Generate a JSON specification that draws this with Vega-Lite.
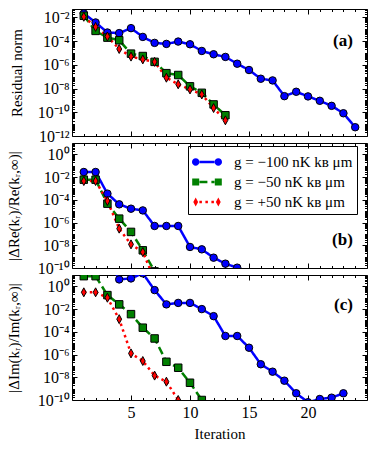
{
  "$schema": "https://vega.github.io/schema/vega-lite/v6.json",
  "padding": {"left": 5, "top": 8, "right": 5, "bottom": 5},
  "bounds": "flush",
  "spacing": 7,
  "config": {
    "font": "Liberation Serif",
    "view": {"stroke": "black", "strokeWidth": 1},
    "axis": {"domain": false, "grid": false, "tickColor": "black", "tickWidth": 1, "labelColor": "black", "titleColor": "black", "labelFontSize": 16, "titleFontSize": 15, "titleFontWeight": "normal", "labelFont": "Liberation Serif", "titleFont": "Liberation Serif"},
    "legend": {"labelFont": "Liberation Serif", "labelFontSize": 15}
  },
  "datasets": {
    "d": [
      {"p":"a","s":"−100","i":1,"v":2.2e-2},{"p":"a","s":"−100","i":2,"v":3.8e-3},{"p":"a","s":"−100","i":3,"v":5.4e-4},{"p":"a","s":"−100","i":4,"v":4.8e-4},{"p":"a","s":"−100","i":5,"v":1.26e-3},{"p":"a","s":"−100","i":6,"v":2.3e-4},{"p":"a","s":"−100","i":7,"v":7.2e-5},{"p":"a","s":"−100","i":8,"v":5.9e-5},{"p":"a","s":"−100","i":9,"v":9.3e-5},{"p":"a","s":"−100","i":10,"v":5.5e-5},{"p":"a","s":"−100","i":11,"v":1.5e-5},{"p":"a","s":"−100","i":12,"v":7.9e-6},{"p":"a","s":"−100","i":13,"v":4.7e-6},{"p":"a","s":"−100","i":14,"v":1.26e-6},{"p":"a","s":"−100","i":15,"v":3.7e-7},{"p":"a","s":"−100","i":16,"v":6.8e-8},{"p":"a","s":"−100","i":17,"v":4.9e-8},{"p":"a","s":"−100","i":18,"v":2.3e-9},{"p":"a","s":"−100","i":19,"v":5.4e-9},{"p":"a","s":"−100","i":20,"v":2.2e-9},{"p":"a","s":"−100","i":21,"v":9.3e-10},{"p":"a","s":"−100","i":22,"v":3.5e-10},{"p":"a","s":"−100","i":23,"v":8.3e-11},{"p":"a","s":"−100","i":24,"v":5.5e-12},
      {"p":"a","s":"−50","i":1,"v":1.4e-2},{"p":"a","s":"−50","i":2,"v":7.4e-4},{"p":"a","s":"−50","i":3,"v":2.0e-4},{"p":"a","s":"−50","i":4,"v":1.2e-4},{"p":"a","s":"−50","i":5,"v":8.9e-6},{"p":"a","s":"−50","i":6,"v":5.6e-6},{"p":"a","s":"−50","i":7,"v":1.8e-6},{"p":"a","s":"−50","i":8,"v":2.0e-7},{"p":"a","s":"−50","i":9,"v":1.4e-7},{"p":"a","s":"−50","i":10,"v":1.55e-8},{"p":"a","s":"−50","i":11,"v":4.4e-9},{"p":"a","s":"−50","i":12,"v":4.6e-10},{"p":"a","s":"−50","i":13,"v":5.6e-11},
      {"p":"a","s":"+50","i":1,"v":1.15e-2},{"p":"a","s":"+50","i":2,"v":1.6e-3},{"p":"a","s":"+50","i":3,"v":2.5e-4},{"p":"a","s":"+50","i":4,"v":2.2e-5},{"p":"a","s":"+50","i":5,"v":5.0e-6},{"p":"a","s":"+50","i":6,"v":2.9e-6},{"p":"a","s":"+50","i":7,"v":1.8e-6},{"p":"a","s":"+50","i":8,"v":8.3e-8},{"p":"a","s":"+50","i":9,"v":2.3e-8},{"p":"a","s":"+50","i":10,"v":8.5e-9},{"p":"a","s":"+50","i":11,"v":3.2e-9},{"p":"a","s":"+50","i":12,"v":2.3e-10},{"p":"a","s":"+50","i":13,"v":2.1e-11},
      {"p":"b","s":"−100","i":1,"v":2.8e-2},{"p":"b","s":"−100","i":2,"v":2.8e-2},{"p":"b","s":"−100","i":3,"v":3.5e-4},{"p":"b","s":"−100","i":4,"v":4.0e-5},{"p":"b","s":"−100","i":5,"v":1.66e-5},{"p":"b","s":"−100","i":6,"v":1.17e-5},{"p":"b","s":"−100","i":7,"v":5.0e-7},{"p":"b","s":"−100","i":8,"v":5.0e-7},{"p":"b","s":"−100","i":9,"v":5.0e-7},{"p":"b","s":"−100","i":10,"v":7.1e-9},{"p":"b","s":"−100","i":11,"v":4.4e-9},{"p":"b","s":"−100","i":12,"v":8.1e-10},{"p":"b","s":"−100","i":13,"v":2.4e-10},{"p":"b","s":"−100","i":14,"v":1.07e-10},{"p":"b","s":"−100","i":15,"v":2.5e-11},
      {"p":"b","s":"−50","i":1,"v":5.9e-3},{"p":"b","s":"−50","i":2,"v":5.9e-3},{"p":"b","s":"−50","i":3,"v":4.6e-5},{"p":"b","s":"−50","i":4,"v":2.2e-6},{"p":"b","s":"−50","i":5,"v":1.5e-7},{"p":"b","s":"−50","i":6,"v":3.6e-9},{"p":"b","s":"−50","i":7,"v":5.0e-11},
      {"p":"b","s":"+50","i":1,"v":4.5e-3},{"p":"b","s":"+50","i":2,"v":4.5e-3},{"p":"b","s":"+50","i":3,"v":7.9e-5},{"p":"b","s":"+50","i":4,"v":2.9e-7},{"p":"b","s":"+50","i":5,"v":1.2e-8},{"p":"b","s":"+50","i":6,"v":2.5e-9},{"p":"b","s":"+50","i":7,"v":1.0e-11},
      {"p":"c","s":"−100","i":1,"v":300},{"p":"c","s":"−100","i":2,"v":300},{"p":"c","s":"−100","i":3,"v":360},{"p":"c","s":"−100","i":4,"v":4.1},{"p":"c","s":"−100","i":5,"v":5.0},{"p":"c","s":"−100","i":6,"v":14},{"p":"c","s":"−100","i":7,"v":0.47},{"p":"c","s":"−100","i":8,"v":2.6e-2},{"p":"c","s":"−100","i":9,"v":3.5e-2},{"p":"c","s":"−100","i":10,"v":3.5e-2},{"p":"c","s":"−100","i":11,"v":1.0e-2},{"p":"c","s":"−100","i":12,"v":2.4e-3},{"p":"c","s":"−100","i":13,"v":4.3e-5},{"p":"c","s":"−100","i":14,"v":4.3e-5},{"p":"c","s":"−100","i":15,"v":4.0e-6},{"p":"c","s":"−100","i":16,"v":1.4e-7},{"p":"c","s":"−100","i":17,"v":3.1e-8},{"p":"c","s":"−100","i":18,"v":5.0e-9},{"p":"c","s":"−100","i":19,"v":3.9e-10},{"p":"c","s":"−100","i":20,"v":6.3e-11},{"p":"c","s":"−100","i":21,"v":1.23e-10},{"p":"c","s":"−100","i":22,"v":1.6e-10},{"p":"c","s":"−100","i":23,"v":3.9e-10},
      {"p":"c","s":"−50","i":1,"v":7.9},{"p":"c","s":"−50","i":2,"v":7.9},{"p":"c","s":"−50","i":3,"v":0.17},{"p":"c","s":"−50","i":4,"v":2.6e-2},{"p":"c","s":"−50","i":5,"v":3.6e-3},{"p":"c","s":"−50","i":6,"v":2.3e-4},{"p":"c","s":"−50","i":7,"v":2.6e-5},{"p":"c","s":"−50","i":8,"v":2.3e-7},{"p":"c","s":"−50","i":9,"v":6.9e-8},{"p":"c","s":"−50","i":10,"v":3.3e-9},{"p":"c","s":"−50","i":11,"v":1.0e-10},
      {"p":"c","s":"+50","i":1,"v":0.30},{"p":"c","s":"+50","i":2,"v":0.30},{"p":"c","s":"+50","i":3,"v":0.10},{"p":"c","s":"+50","i":4,"v":1.3e-3},{"p":"c","s":"+50","i":5,"v":1.26e-6},{"p":"c","s":"+50","i":6,"v":2.7e-7},{"p":"c","s":"+50","i":7,"v":1.4e-8},{"p":"c","s":"+50","i":8,"v":4.1e-9},{"p":"c","s":"+50","i":9,"v":1.0e-10}
    ]
  },
  "resolve": {
    "scale": {"stroke": "independent", "strokeDash": "independent", "fill": "independent", "shape": "independent"},
    "legend": {"stroke": "independent", "strokeDash": "independent", "fill": "independent", "shape": "independent"}
  },
  "vconcat": [
    {
      "width": 295, "height": 127,
      "resolve": {"axis": {"x": "independent", "y": "independent"}},
      "layer": [
        {
          "data": {"name": "d"},
          "transform": [{"filter": "datum.p === 'a'"}],
          "mark": {"type": "line", "strokeWidth": 2.5, "clip": true},
          "encoding": {
            "x": {"field": "i", "type": "quantitative", "scale": {"domain": [0, 25], "nice": false, "zero": false},
              "axis": {"orient": "bottom", "values": [1,2,3,4,5,6,7,8,9,10,11,12,13,14,15,16,17,18,19,20,21,22,23,24], "labels": false, "title": null, "tickSize": {"condition": {"test": "datum.value % 5 === 0", "value": -5}, "value": -2.5}}},
            "y": {"field": "v", "type": "quantitative", "scale": {"type": "log", "domain": [1e-12, 0.052], "nice": false},
              "axis": {"orient": "left", "title": "Residual norm", "titlePadding": 13, "labelPadding": 8,
                "values": [1e-12,2e-12,3e-12,4e-12,5e-12,6e-12,7e-12,8e-12,9e-12,1e-11,2e-11,3e-11,4e-11,5e-11,6e-11,7e-11,8e-11,9e-11,1e-10,2e-10,3e-10,4e-10,5e-10,6e-10,7e-10,8e-10,9e-10,1e-9,2e-9,3e-9,4e-9,5e-9,6e-9,7e-9,8e-9,9e-9,1e-8,2e-8,3e-8,4e-8,5e-8,6e-8,7e-8,8e-8,9e-8,1e-7,2e-7,3e-7,4e-7,5e-7,6e-7,7e-7,8e-7,9e-7,1e-6,2e-6,3e-6,4e-6,5e-6,6e-6,7e-6,8e-6,9e-6,1e-5,2e-5,3e-5,4e-5,5e-5,6e-5,7e-5,8e-5,9e-5,1e-4,2e-4,3e-4,4e-4,5e-4,6e-4,7e-4,8e-4,9e-4,1e-3,2e-3,3e-3,4e-3,5e-3,6e-3,7e-3,8e-3,9e-3,1e-2,2e-2,3e-2,4e-2,5e-2],
                "labelExpr": "abs(log(datum.value)/LN10 - round(log(datum.value)/LN10)) < 1e-6 && round(log(datum.value)/LN10) % 2 == 0 ? '10' + (round(log(datum.value)/LN10) < 0 ? '⁻' : '') + (abs(round(log(datum.value)/LN10)) >= 10 ? '¹' : '') + ['⁰','¹','²','³','⁴','⁵','⁶','⁷','⁸','⁹'][abs(round(log(datum.value)/LN10)) % 10] : ''",
                "tickSize": {"condition": {"test": "abs(log(datum.value)/LN10 - round(log(datum.value)/LN10)) < 1e-6 && round(log(datum.value)/LN10) % 2 == 0", "value": -5}, "value": -2.5}}},
            "stroke": {"field": "s", "type": "nominal", "scale": {"domain": ["−100", "−50", "+50"], "range": ["#0000ff", "#008000", "#ff0000"]}, "legend": null},
            "strokeDash": {"field": "s", "type": "nominal", "scale": {"domain": ["−100", "−50", "+50"], "range": [[1, 0], [8, 4], [2.5, 3.5]]}, "legend": null}
          }
        },
        {
          "data": {"name": "d"},
          "transform": [{"filter": "datum.p === 'a'"}],
          "mark": {"type": "point", "filled": true, "stroke": "black", "strokeWidth": 1, "size": 56, "opacity": 1, "clip": true},
          "encoding": {
            "x": {"field": "i", "type": "quantitative", "scale": {"domain": [0, 25], "nice": false, "zero": false},
              "axis": {"orient": "top", "values": [1,2,3,4,5,6,7,8,9,10,11,12,13,14,15,16,17,18,19,20,21,22,23,24], "labels": false, "title": null, "tickSize": {"condition": {"test": "datum.value % 5 === 0", "value": -5}, "value": -2.5}}},
            "y": {"field": "v", "type": "quantitative", "scale": {"type": "log", "domain": [1e-12, 0.052], "nice": false},
              "axis": {"orient": "right", "labels": false, "title": null,
                "values": [1e-12,2e-12,3e-12,4e-12,5e-12,6e-12,7e-12,8e-12,9e-12,1e-11,2e-11,3e-11,4e-11,5e-11,6e-11,7e-11,8e-11,9e-11,1e-10,2e-10,3e-10,4e-10,5e-10,6e-10,7e-10,8e-10,9e-10,1e-9,2e-9,3e-9,4e-9,5e-9,6e-9,7e-9,8e-9,9e-9,1e-8,2e-8,3e-8,4e-8,5e-8,6e-8,7e-8,8e-8,9e-8,1e-7,2e-7,3e-7,4e-7,5e-7,6e-7,7e-7,8e-7,9e-7,1e-6,2e-6,3e-6,4e-6,5e-6,6e-6,7e-6,8e-6,9e-6,1e-5,2e-5,3e-5,4e-5,5e-5,6e-5,7e-5,8e-5,9e-5,1e-4,2e-4,3e-4,4e-4,5e-4,6e-4,7e-4,8e-4,9e-4,1e-3,2e-3,3e-3,4e-3,5e-3,6e-3,7e-3,8e-3,9e-3,1e-2,2e-2,3e-2,4e-2,5e-2],
                "tickSize": {"condition": {"test": "abs(log(datum.value)/LN10 - round(log(datum.value)/LN10)) < 1e-6 && round(log(datum.value)/LN10) % 2 == 0", "value": -5}, "value": -2.5}}},
            "fill": {"field": "s", "type": "nominal", "scale": {"domain": ["−100", "−50", "+50"], "range": ["#0000ff", "#008000", "#ff0000"]}, "legend": null},
            "shape": {"field": "s", "type": "nominal", "scale": {"domain": ["−100", "−50", "+50"], "range": ["circle", "square", "M0,-1.2L0.65,0L0,1.2L-0.65,0Z"]}, "legend": null}
          }
        },
        {
          "data": {"values": [{"label": "(a)"}]},
          "mark": {"type": "text", "align": "right", "baseline": "middle", "fontSize": 17, "fontWeight": "bold", "font": "Liberation Serif", "color": "black"},
          "encoding": {
            "text": {"field": "label"},
            "x": {"datum": 23.8, "type": "quantitative", "axis": null},
            "y": {"datum": 1.07e-4, "type": "quantitative", "axis": null}
          }
        }
      ]
    },
    {
      "width": 295, "height": 125,
      "resolve": {
        "axis": {"x": "independent", "y": "independent"},
        "scale": {"fill": "independent", "shape": "independent"},
        "legend": {"stroke": "independent", "strokeDash": "independent", "fill": "independent", "shape": "independent"}
      },
      "layer": [
        {
          "data": {"name": "d"},
          "transform": [{"filter": "datum.p === 'b'"}],
          "mark": {"type": "line", "strokeWidth": 2.5, "clip": true},
          "encoding": {
            "x": {"field": "i", "type": "quantitative", "scale": {"domain": [0, 25], "nice": false, "zero": false},
              "axis": {"orient": "bottom", "values": [1,2,3,4,5,6,7,8,9,10,11,12,13,14,15,16,17,18,19,20,21,22,23,24], "labels": false, "title": null, "tickSize": {"condition": {"test": "datum.value % 5 === 0", "value": -5}, "value": -2.5}}},
            "y": {"field": "v", "type": "quantitative", "scale": {"type": "log", "domain": [1e-10, 10], "nice": false},
              "axis": {"orient": "left", "title": "|ΔRe(kᵣ)/Re(kᵣ,∞)|", "titlePadding": 16, "labelPadding": 8,
                "values": [1e-10,2e-10,3e-10,4e-10,5e-10,6e-10,7e-10,8e-10,9e-10,1e-9,2e-9,3e-9,4e-9,5e-9,6e-9,7e-9,8e-9,9e-9,1e-8,2e-8,3e-8,4e-8,5e-8,6e-8,7e-8,8e-8,9e-8,1e-7,2e-7,3e-7,4e-7,5e-7,6e-7,7e-7,8e-7,9e-7,1e-6,2e-6,3e-6,4e-6,5e-6,6e-6,7e-6,8e-6,9e-6,1e-5,2e-5,3e-5,4e-5,5e-5,6e-5,7e-5,8e-5,9e-5,1e-4,2e-4,3e-4,4e-4,5e-4,6e-4,7e-4,8e-4,9e-4,1e-3,2e-3,3e-3,4e-3,5e-3,6e-3,7e-3,8e-3,9e-3,1e-2,2e-2,3e-2,4e-2,5e-2,6e-2,7e-2,8e-2,9e-2,0.1,0.2,0.3,0.4,0.5,0.6,0.7,0.8,0.9,1,2,3,4,5,6,7,8,9,10],
                "labelExpr": "abs(log(datum.value)/LN10 - round(log(datum.value)/LN10)) < 1e-6 && round(log(datum.value)/LN10) % 2 == 0 ? '10' + (round(log(datum.value)/LN10) < 0 ? '⁻' : '') + (abs(round(log(datum.value)/LN10)) >= 10 ? '¹' : '') + ['⁰','¹','²','³','⁴','⁵','⁶','⁷','⁸','⁹'][abs(round(log(datum.value)/LN10)) % 10] : ''",
                "tickSize": {"condition": {"test": "abs(log(datum.value)/LN10 - round(log(datum.value)/LN10)) < 1e-6 && round(log(datum.value)/LN10) % 2 == 0", "value": -5}, "value": -2.5}}},
            "stroke": {"field": "s", "type": "nominal", "scale": {"domain": ["−100", "−50", "+50"], "range": ["#0000ff", "#008000", "#ff0000"]},
              "legend": {"orient": "none", "legendX": 116, "legendY": 3, "title": null, "symbolType": "M-0.707,0H0.707", "symbolSize": 462.25, "symbolStrokeWidth": 2.5, "symbolFillColor": "transparent", "symbolOffset": 3, "labelColor": "transparent", "labelOffset": 15, "rowPadding": 0, "padding": 4, "labelExpr": "'g = ' + datum.label + ' nK kʙ μm'"}},
            "strokeDash": {"field": "s", "type": "nominal", "scale": {"domain": ["−100", "−50", "+50"], "range": [[1, 0], [8, 4], [2.5, 3.5]]},
              "legend": {"orient": "none", "legendX": 116, "legendY": 3, "title": null, "symbolType": "M-0.707,0H0.707", "symbolSize": 462.25, "symbolStrokeWidth": 2.5, "symbolFillColor": "transparent", "symbolOffset": 3, "labelColor": "transparent", "labelOffset": 15, "rowPadding": 0, "padding": 4, "labelExpr": "'g = ' + datum.label + ' nK kʙ μm'"}}
          }
        },
        {
          "data": {"name": "d"},
          "transform": [{"filter": "datum.p === 'b'"}],
          "mark": {"type": "point", "filled": true, "stroke": "black", "strokeWidth": 1, "size": 56, "opacity": 1, "clip": true},
          "encoding": {
            "x": {"field": "i", "type": "quantitative", "scale": {"domain": [0, 25], "nice": false, "zero": false},
              "axis": {"orient": "top", "values": [1,2,3,4,5,6,7,8,9,10,11,12,13,14,15,16,17,18,19,20,21,22,23,24], "labels": false, "title": null, "tickSize": {"condition": {"test": "datum.value % 5 === 0", "value": -5}, "value": -2.5}}},
            "y": {"field": "v", "type": "quantitative", "scale": {"type": "log", "domain": [1e-10, 10], "nice": false},
              "axis": {"orient": "right", "labels": false, "title": null,
                "values": [1e-10,2e-10,3e-10,4e-10,5e-10,6e-10,7e-10,8e-10,9e-10,1e-9,2e-9,3e-9,4e-9,5e-9,6e-9,7e-9,8e-9,9e-9,1e-8,2e-8,3e-8,4e-8,5e-8,6e-8,7e-8,8e-8,9e-8,1e-7,2e-7,3e-7,4e-7,5e-7,6e-7,7e-7,8e-7,9e-7,1e-6,2e-6,3e-6,4e-6,5e-6,6e-6,7e-6,8e-6,9e-6,1e-5,2e-5,3e-5,4e-5,5e-5,6e-5,7e-5,8e-5,9e-5,1e-4,2e-4,3e-4,4e-4,5e-4,6e-4,7e-4,8e-4,9e-4,1e-3,2e-3,3e-3,4e-3,5e-3,6e-3,7e-3,8e-3,9e-3,1e-2,2e-2,3e-2,4e-2,5e-2,6e-2,7e-2,8e-2,9e-2,0.1,0.2,0.3,0.4,0.5,0.6,0.7,0.8,0.9,1,2,3,4,5,6,7,8,9,10],
                "tickSize": {"condition": {"test": "abs(log(datum.value)/LN10 - round(log(datum.value)/LN10)) < 1e-6 && round(log(datum.value)/LN10) % 2 == 0", "value": -5}, "value": -2.5}}},
            "fill": {"field": "s", "type": "nominal", "scale": {"domain": ["−100", "−50", "+50"], "range": ["#0000ff", "#008000", "#ff0000"]}, "legend": null},
            "shape": {"field": "s", "type": "nominal", "scale": {"domain": ["−100", "−50", "+50"], "range": ["circle", "square", "M0,-1.2L0.65,0L0,1.2L-0.65,0Z"]}, "legend": null}
          }
        },
        {
          "data": {"values": [{"g": "g = −100 nK kʙ μm"}, {"g": "g = −50 nK kʙ μm"}, {"g": "g = +50 nK kʙ μm"}]},
          "mark": {"type": "point", "filled": true, "stroke": "black", "strokeWidth": 1, "size": 56, "opacity": 1, "clip": true},
          "encoding": {
            "x": {"datum": 1, "type": "quantitative", "axis": null},
            "y": {"datum": 1e-30, "type": "quantitative", "axis": null},
            "fill": {"field": "g", "type": "nominal", "scale": {"domain": ["g = −100 nK kʙ μm", "g = −50 nK kʙ μm", "g = +50 nK kʙ μm"], "range": ["#0000ff", "#008000", "#ff0000"]},
              "legend": {"orient": "none", "legendX": 116, "legendY": 3, "title": null, "symbolSize": 529, "symbolStrokeColor": "black", "symbolStrokeWidth": 1, "symbolOffset": 3, "labelColor": "black", "labelOffset": 15, "rowPadding": 0, "padding": 4, "strokeColor": "black"}},
            "shape": {"field": "g", "type": "nominal", "scale": {"domain": ["g = −100 nK kʙ μm", "g = −50 nK kʙ μm", "g = +50 nK kʙ μm"], "range": ["M-0.661,0A0.322,0.322,0,1,1,-1.305,0A0.322,0.322,0,1,1,-0.661,0Z M1.305,0A0.322,0.322,0,1,1,0.661,0A0.322,0.322,0,1,1,1.305,0Z", "M-1.287,-0.304H-0.679V0.304H-1.287Z M0.679,-0.304H1.287V0.304H0.679Z", "M-0.983,-0.391L-0.774,0L-0.983,0.391L-1.192,0Z M0.983,-0.391L1.192,0L0.983,0.391L0.774,0Z"]},
              "legend": {"orient": "none", "legendX": 116, "legendY": 3, "title": null, "symbolSize": 529, "symbolStrokeColor": "black", "symbolStrokeWidth": 1, "symbolOffset": 3, "labelColor": "black", "labelOffset": 15, "rowPadding": 0, "padding": 4, "strokeColor": "black"}}
          }
        },
        {
          "data": {"values": [{"label": "(b)"}]},
          "mark": {"type": "text", "align": "right", "baseline": "middle", "fontSize": 17, "fontWeight": "bold", "font": "Liberation Serif", "color": "black"},
          "encoding": {
            "text": {"field": "label"},
            "x": {"datum": 23.8, "type": "quantitative", "axis": null},
            "y": {"datum": 2.7e-8, "type": "quantitative", "axis": null}
          }
        }
      ]
    },
    {
      "width": 295, "height": 125,
      "resolve": {"axis": {"x": "independent", "y": "independent"}},
      "layer": [
        {
          "data": {"name": "d"},
          "transform": [{"filter": "datum.p === 'c'"}],
          "mark": {"type": "line", "strokeWidth": 2.5, "clip": true},
          "encoding": {
            "x": {"field": "i", "type": "quantitative", "scale": {"domain": [0, 25], "nice": false, "zero": false},
              "axis": {"orient": "bottom", "values": [1,2,3,4,5,6,7,8,9,10,11,12,13,14,15,16,17,18,19,20,21,22,23,24], "labelExpr": "datum.value % 5 === 0 ? datum.label : ''", "labelPadding": 9, "title": "Iteration", "titlePadding": 6, "tickSize": {"condition": {"test": "datum.value % 5 === 0", "value": -5}, "value": -2.5}}},
            "y": {"field": "v", "type": "quantitative", "scale": {"type": "log", "domain": [1e-10, 10], "nice": false},
              "axis": {"orient": "left", "title": "|ΔIm(kᵣ)/Im(kᵣ,∞)|", "titlePadding": 16, "labelPadding": 8,
                "values": [1e-10,2e-10,3e-10,4e-10,5e-10,6e-10,7e-10,8e-10,9e-10,1e-9,2e-9,3e-9,4e-9,5e-9,6e-9,7e-9,8e-9,9e-9,1e-8,2e-8,3e-8,4e-8,5e-8,6e-8,7e-8,8e-8,9e-8,1e-7,2e-7,3e-7,4e-7,5e-7,6e-7,7e-7,8e-7,9e-7,1e-6,2e-6,3e-6,4e-6,5e-6,6e-6,7e-6,8e-6,9e-6,1e-5,2e-5,3e-5,4e-5,5e-5,6e-5,7e-5,8e-5,9e-5,1e-4,2e-4,3e-4,4e-4,5e-4,6e-4,7e-4,8e-4,9e-4,1e-3,2e-3,3e-3,4e-3,5e-3,6e-3,7e-3,8e-3,9e-3,1e-2,2e-2,3e-2,4e-2,5e-2,6e-2,7e-2,8e-2,9e-2,0.1,0.2,0.3,0.4,0.5,0.6,0.7,0.8,0.9,1,2,3,4,5,6,7,8,9,10],
                "labelExpr": "abs(log(datum.value)/LN10 - round(log(datum.value)/LN10)) < 1e-6 && round(log(datum.value)/LN10) % 2 == 0 ? '10' + (round(log(datum.value)/LN10) < 0 ? '⁻' : '') + (abs(round(log(datum.value)/LN10)) >= 10 ? '¹' : '') + ['⁰','¹','²','³','⁴','⁵','⁶','⁷','⁸','⁹'][abs(round(log(datum.value)/LN10)) % 10] : ''",
                "tickSize": {"condition": {"test": "abs(log(datum.value)/LN10 - round(log(datum.value)/LN10)) < 1e-6 && round(log(datum.value)/LN10) % 2 == 0", "value": -5}, "value": -2.5}}},
            "stroke": {"field": "s", "type": "nominal", "scale": {"domain": ["−100", "−50", "+50"], "range": ["#0000ff", "#008000", "#ff0000"]}, "legend": null},
            "strokeDash": {"field": "s", "type": "nominal", "scale": {"domain": ["−100", "−50", "+50"], "range": [[1, 0], [8, 4], [2.5, 3.5]]}, "legend": null}
          }
        },
        {
          "data": {"name": "d"},
          "transform": [{"filter": "datum.p === 'c'"}],
          "mark": {"type": "point", "filled": true, "stroke": "black", "strokeWidth": 1, "size": 56, "opacity": 1, "clip": true},
          "encoding": {
            "x": {"field": "i", "type": "quantitative", "scale": {"domain": [0, 25], "nice": false, "zero": false},
              "axis": {"orient": "top", "values": [1,2,3,4,5,6,7,8,9,10,11,12,13,14,15,16,17,18,19,20,21,22,23,24], "labels": false, "title": null, "tickSize": {"condition": {"test": "datum.value % 5 === 0", "value": -5}, "value": -2.5}}},
            "y": {"field": "v", "type": "quantitative", "scale": {"type": "log", "domain": [1e-10, 10], "nice": false},
              "axis": {"orient": "right", "labels": false, "title": null,
                "values": [1e-10,2e-10,3e-10,4e-10,5e-10,6e-10,7e-10,8e-10,9e-10,1e-9,2e-9,3e-9,4e-9,5e-9,6e-9,7e-9,8e-9,9e-9,1e-8,2e-8,3e-8,4e-8,5e-8,6e-8,7e-8,8e-8,9e-8,1e-7,2e-7,3e-7,4e-7,5e-7,6e-7,7e-7,8e-7,9e-7,1e-6,2e-6,3e-6,4e-6,5e-6,6e-6,7e-6,8e-6,9e-6,1e-5,2e-5,3e-5,4e-5,5e-5,6e-5,7e-5,8e-5,9e-5,1e-4,2e-4,3e-4,4e-4,5e-4,6e-4,7e-4,8e-4,9e-4,1e-3,2e-3,3e-3,4e-3,5e-3,6e-3,7e-3,8e-3,9e-3,1e-2,2e-2,3e-2,4e-2,5e-2,6e-2,7e-2,8e-2,9e-2,0.1,0.2,0.3,0.4,0.5,0.6,0.7,0.8,0.9,1,2,3,4,5,6,7,8,9,10],
                "tickSize": {"condition": {"test": "abs(log(datum.value)/LN10 - round(log(datum.value)/LN10)) < 1e-6 && round(log(datum.value)/LN10) % 2 == 0", "value": -5}, "value": -2.5}}},
            "fill": {"field": "s", "type": "nominal", "scale": {"domain": ["−100", "−50", "+50"], "range": ["#0000ff", "#008000", "#ff0000"]}, "legend": null},
            "shape": {"field": "s", "type": "nominal", "scale": {"domain": ["−100", "−50", "+50"], "range": ["circle", "square", "M0,-1.2L0.65,0L0,1.2L-0.65,0Z"]}, "legend": null}
          }
        },
        {
          "data": {"values": [{"label": "(c)"}]},
          "mark": {"type": "text", "align": "right", "baseline": "middle", "fontSize": 17, "fontWeight": "bold", "font": "Liberation Serif", "color": "black"},
          "encoding": {
            "text": {"field": "label"},
            "x": {"datum": 23.8, "type": "quantitative", "axis": null},
            "y": {"datum": 2.2e-2, "type": "quantitative", "axis": null}
          }
        }
      ]
    }
  ]
}
